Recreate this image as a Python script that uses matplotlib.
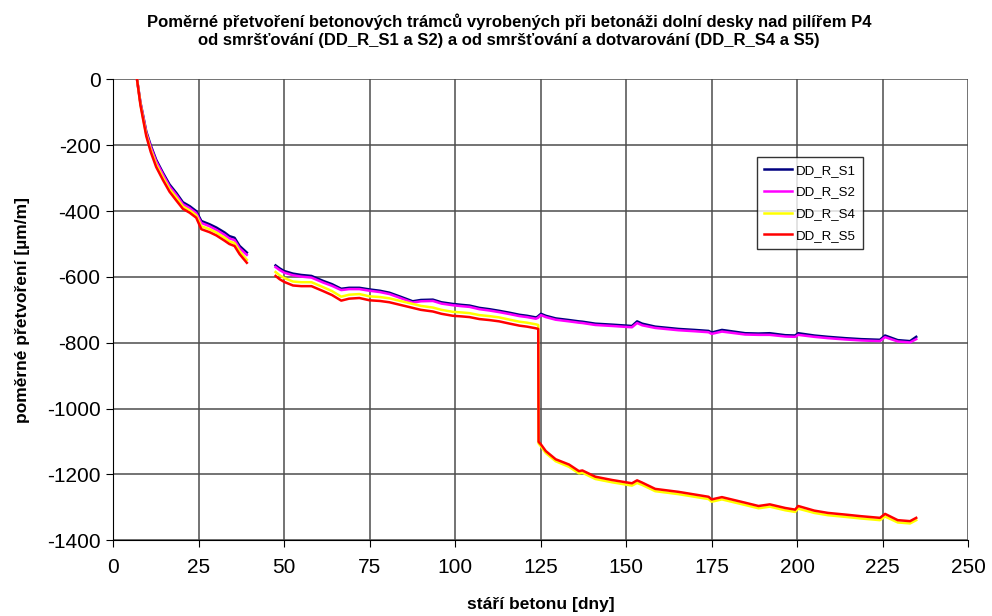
import matplotlib
matplotlib.use("Agg")
import matplotlib.pyplot as plt
import numpy as np

plt.rcParams["font.family"] = ["Liberation Sans", "DejaVu Sans"]
plt.rcParams["axes.unicode_minus"] = False

# stáří betonu [dny]; NaN splits the measurement gap
days = [7.0, 8, 8.75, 9.7, 11, 12.6, 14.6, 16.5, 18.5, 20.4, 22.4, 24.3, 25.8, 28.2, 30.2, 32.6, 34, 35.5, 37, 39.1,
        43,
        47.5, 48.7, 50, 52.6, 55, 58, 61.4, 64, 66.7, 69, 72, 75, 78, 80.8, 84, 87.6, 90, 93.5, 96, 99.3,
        102, 104.2, 107.1, 110, 112.9, 116, 118.8, 121, 123.6, 124.3, 124.4, 125.1, 126.5, 129.4, 133.3,
        136.2, 137.2, 141, 145.9, 151.7, 153.2, 154.7, 158.5, 165.3, 170, 174.1, 175, 178, 184.8, 188.7,
        192, 196.5, 199.4, 200.3, 205, 209, 214, 218.7, 224.2, 225.7, 229.4, 233, 234.8]

nan = float("nan")

s1 = [0, -70, -108, -158, -200, -244, -284, -319, -345, -373, -385, -400, -430, -440, -450, -465, -476, -481, -506, -526,
      nan,
      -565, -574, -582, -590, -594, -597, -612, -622, -636, -633, -633, -638, -642, -648, -660, -674, -670, -669, -677, -682,
      -685, -687, -694, -698, -703, -709, -715, -718, -723, -720, -718, -712, -718, -726, -731,
      -735, -736, -742, -745, -749, -735, -742, -751, -758, -761, -764, -769, -761, -771, -772,
      -771, -777, -778, -771, -778, -782, -786, -789, -791, -778, -792, -795, -782]

s2 = [0, -72, -111, -162, -205, -249, -289, -325, -351, -379, -391, -406, -436, -446, -457, -472, -483, -488, -513, -533,
      nan,
      -570, -579, -587, -595, -599, -602, -617, -627, -640, -637, -637, -642, -646, -652, -664, -678, -674, -673, -681, -686,
      -689, -691, -698, -702, -707, -713, -719, -722, -727, -724, -722, -716, -722, -730, -735,
      -739, -740, -746, -749, -753, -740, -747, -755, -762, -765, -768, -773, -766, -775, -776,
      -776, -781, -782, -776, -782, -786, -790, -793, -795, -783, -796, -799, -789]

s4 = [0, -75, -116, -167, -213, -258, -298, -333, -359, -386, -398, -413, -446, -455, -465, -481, -492, -497, -522, -548,
      nan,
      -585, -595, -603, -614, -616, -616, -631, -643, -660, -654, -652, -659, -661, -665, -673, -682, -688, -693, -700, -706,
      -708, -710, -716, -719, -723, -730, -736, -739, -744, -746, -1106, -1115, -1135, -1160, -1177,
      -1197, -1195, -1214, -1224, -1234, -1226, -1232, -1251, -1260, -1268, -1275, -1283, -1276, -1293, -1303,
      -1298, -1309, -1314, -1304, -1317, -1324, -1329, -1334, -1339, -1328, -1346, -1349, -1339]

s5 = [0, -78, -120, -172, -220, -266, -306, -341, -368, -393, -405, -420, -455, -464, -474, -490, -500, -506, -531, -557,
      nan,
      -597, -607, -615, -626, -628, -628, -643, -655, -672, -666, -664, -671, -673, -677, -685, -694, -700, -705, -712, -718,
      -720, -722, -728, -731, -735, -742, -748, -751, -756, -758, -1101, -1109, -1129, -1154, -1170,
      -1190, -1188, -1207, -1217, -1227, -1218, -1225, -1244, -1253, -1261, -1268, -1276, -1269, -1286, -1296,
      -1291, -1302, -1307, -1296, -1310, -1317, -1322, -1327, -1332, -1320, -1339, -1342, -1332]

labels = ["DD_R_S1", "DD_R_S2", "DD_R_S4", "DD_R_S5"]
colors = ["#000080", "#FF00FF", "#FFFF00", "#FF0000"]

fig = plt.figure(figsize=(9.92, 6.16), dpi=100)
ax = fig.add_axes([0.114, 0.123, 0.862, 0.748])

for series, label, color in zip([s1, s2, s4, s5], labels, colors):
    ax.plot(days, series, color=color, lw=1.8, label=label)

ax.set_xlim(0, 250)
ax.set_ylim(-1400, 0)
ax.set_xticks(np.arange(0, 251, 25))
ax.set_yticks(np.arange(-1400, 1, 200))
ax.grid(True, color="#4d4d4d", lw=1.1)
ax.set_axisbelow(True)
for side in ["top", "right"]:
    ax.spines[side].set_visible(False)
for side in ["left", "bottom"]:
    ax.spines[side].set_color("black")
ax.tick_params(axis="both", direction="out", length=5, color="black", labelsize=15)
ax.tick_params(axis="x", pad=8)
ax.tick_params(axis="y", pad=4)

ax.set_xlabel("stáří betonu [dny]", fontsize=12.5, fontweight="bold", labelpad=14)
ax.set_ylabel("poměrné přetvoření [µm/m]", fontsize=12.5, fontweight="bold", labelpad=12)

fig.text(0.513, 0.978,
         "Poměrné přetvoření betonových trámců vyrobených při betonáži dolní desky nad pilířem P4\n"
         "od smršťování (DD_R_S1 a S2) a od smršťování a dotvarování (DD_R_S4 a S5)",
         ha="center", va="top", fontsize=12, fontweight="bold", linespacing=1.25)

leg = ax.legend(loc="upper left", bbox_to_anchor=(0.753, 0.831), fontsize=9.5, frameon=True,
                fancybox=False, edgecolor="black", handlelength=2.1, borderpad=0.55,
                labelspacing=0.72, handletextpad=0.3, borderaxespad=0)
leg.get_frame().set_linewidth(1.0)

fig.savefig("out.png", dpi=100)
